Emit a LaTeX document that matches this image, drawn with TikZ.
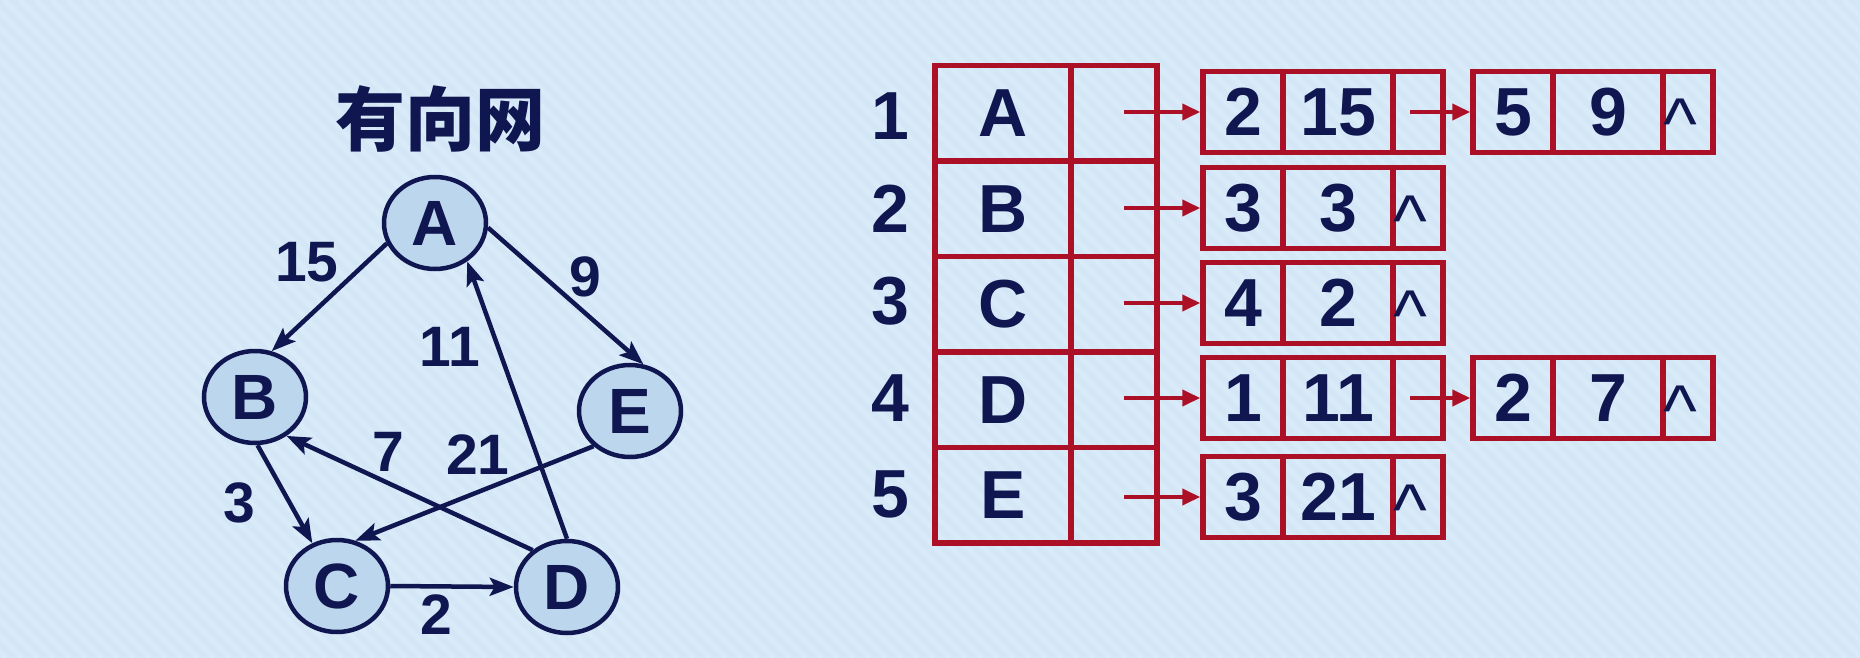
\documentclass[tikz,border=0pt]{standalone}
\usepackage{fontspec}
\setmainfont{Liberation Sans}
\newfontfamily\cjk{Noto Sans CJK SC}
\usetikzlibrary{arrows.meta,shapes.geometric}
\definecolor{bgc}{RGB}{212,231,247}
\definecolor{stripec}{RGB}{217,234,249}
\definecolor{navy}{RGB}{16,22,80}
\definecolor{nodefill}{RGB}{188,214,238}
\definecolor{redc}{RGB}{172,16,38}
\begin{document}
\begin{tikzpicture}[x=1pt,y=-1pt,
  vert/.style={ellipse,draw=navy,fill=nodefill,line width=4.5pt,minimum width=102pt,minimum height=92pt,inner sep=0pt,text=navy,font=\fontsize{64}{64}\selectfont\bfseries},
  gedge/.style={draw=navy,line width=4.5pt,-{Stealth[length=24pt,width=18pt,inset=5pt]}},
  wlabel/.style={inner sep=0pt,text=navy,font=\fontsize{57}{57}\selectfont\bfseries},
  idxlabel/.style={inner sep=0pt,text=navy,font=\fontsize{68}{68}\selectfont\bfseries},
  tcell/.style={rectangle,draw=redc,line width=5.5pt,minimum height=95.5pt,inner sep=0pt,text=navy,font=\fontsize{68}{68}\selectfont\bfseries},
  lcell/.style={rectangle,draw=redc,line width=5.5pt,minimum height=81pt,inner sep=0pt,text=navy,font=\fontsize{68}{68}\selectfont\bfseries},
  nullmark/.style={anchor=base,inner sep=0pt,text=navy,font=\fontsize{72}{72}\selectfont},
  redarrow/.style={draw=redc,line width=4pt,-{Triangle[length=18pt,width=16pt]}}
]
\useasboundingbox (0,0) rectangle (1860,658);
\fill[bgc] (0,0) rectangle (1860,658);
\begin{scope}
\clip (0,0) rectangle (1860,658);
\foreach \k in {-700,-684,...,1860} \draw[stripec,line width=5pt] (\k,0) -- (\k+658,658);
\end{scope}

% title
\node[inner sep=0pt,text=navy,font=\cjk\bfseries\fontsize{70}{70}\selectfont] (title) at (440,119) {有向网};

% graph
\node[vert] (A) at (435,223) {A};
\node[vert] (B) at (255,397) {B};
\node[vert] (E) at (630,411) {E};
\node[vert] (C) at (337,586) {C};
\node[vert] (D) at (567,587) {D};

\draw[gedge] (A.-157) -- (B.70);
\draw[gedge] (A.-5) -- (E.74);
\draw[gedge] (D.90) -- (A.-50);
\draw[gedge] (B.-87) -- (C.120);
\draw[gedge] (D.133) -- (B.-51);
\draw[gedge] (E.-136) -- (C.68);
\draw[gedge] (C.0) -- (D.180);

\node[wlabel] (w15) at (307,262) {15};
\node[wlabel] (w9) at (585,277) {9};
\node[wlabel] (w11) at (450,347) {11};
\node[wlabel] (w7) at (388,452) {7};
\node[wlabel] (w21) at (478,455) {21};
\node[wlabel] (w3) at (239,503) {3};
\node[wlabel] (w2) at (436,615) {2};

% index labels
\node[idxlabel] (i1) at (890,116) {1};
\node[idxlabel] (i2) at (890,209) {2};
\node[idxlabel] (i3) at (890,301) {3};
\node[idxlabel] (i4) at (890,398) {4};
\node[idxlabel] (i5) at (890,494) {5};

% head table
\node[tcell,minimum width=136pt] (T1) at (1003,113.25) {A};
\node[tcell,minimum width=86pt] (P1) at (1114,113.25) {};
\node[tcell,minimum width=136pt] (T2) at (1003,208.75) {B};
\node[tcell,minimum width=86pt] (P2) at (1114,208.75) {};
\node[tcell,minimum width=136pt] (T3) at (1003,304.25) {C};
\node[tcell,minimum width=86pt] (P3) at (1114,304.25) {};
\node[tcell,minimum width=136pt] (T4) at (1003,399.75) {D};
\node[tcell,minimum width=86pt] (P4) at (1114,399.75) {};
\node[tcell,minimum width=136pt] (T5) at (1003,495.25) {E};
\node[tcell,minimum width=86pt] (P5) at (1114,495.25) {};

% row 1
\node[lcell,minimum width=80pt] (a1) at (1243,112) {2};
\node[lcell,minimum width=110pt] (b1) at (1338,112) {15};
\node[lcell,minimum width=50pt] (c1) at (1418,112) {};
\node[lcell,minimum width=80pt] (d1) at (1513,112) {5};
\node[lcell,minimum width=110pt] (e1) at (1608,112) {9};
\node[lcell,minimum width=50pt] (f1) at (1688,112) {};
\node[nullmark] (z1) at (1680,149) {\textasciicircum};
% row 2
\node[lcell,minimum width=80pt] (a2) at (1243,208) {3};
\node[lcell,minimum width=110pt] (b2) at (1338,208) {3};
\node[lcell,minimum width=50pt] (c2) at (1418,208) {};
\node[nullmark] (z2) at (1410,245) {\textasciicircum};
% row 3
\node[lcell,minimum width=80pt] (a3) at (1243,303) {4};
\node[lcell,minimum width=110pt] (b3) at (1338,303) {2};
\node[lcell,minimum width=50pt] (c3) at (1418,303) {};
\node[nullmark] (z3) at (1410,340) {\textasciicircum};
% row 4
\node[lcell,minimum width=80pt] (a4) at (1243,398) {1};
\node[lcell,minimum width=110pt] (b4) at (1338,398) {11};
\node[lcell,minimum width=50pt] (c4) at (1418,398) {};
\node[lcell,minimum width=80pt] (d4) at (1513,398) {2};
\node[lcell,minimum width=110pt] (e4) at (1608,398) {7};
\node[lcell,minimum width=50pt] (f4) at (1688,398) {};
\node[nullmark] (z4) at (1680,435) {\textasciicircum};
% row 5
\node[lcell,minimum width=80pt] (a5) at (1243,497) {3};
\node[lcell,minimum width=110pt] (b5) at (1338,497) {21};
\node[lcell,minimum width=50pt] (c5) at (1418,497) {};
\node[nullmark] (z5) at (1410,534) {\textasciicircum};

% pointers
\coordinate (s1) at (1124,112);
\coordinate (s2) at (1124,208);
\coordinate (s3) at (1124,303);
\coordinate (s4) at (1124,398);
\coordinate (s5) at (1124,497);
\coordinate (q1) at (1410,112);
\coordinate (q4) at (1410,398);
\draw[redarrow] (s1) -- (a1.west);
\draw[redarrow] (s2) -- (a2.west);
\draw[redarrow] (s3) -- (a3.west);
\draw[redarrow] (s4) -- (a4.west);
\draw[redarrow] (s5) -- (a5.west);
\draw[redarrow] (q1) -- (d1.west);
\draw[redarrow] (q4) -- (d4.west);
\end{tikzpicture}
\end{document}
